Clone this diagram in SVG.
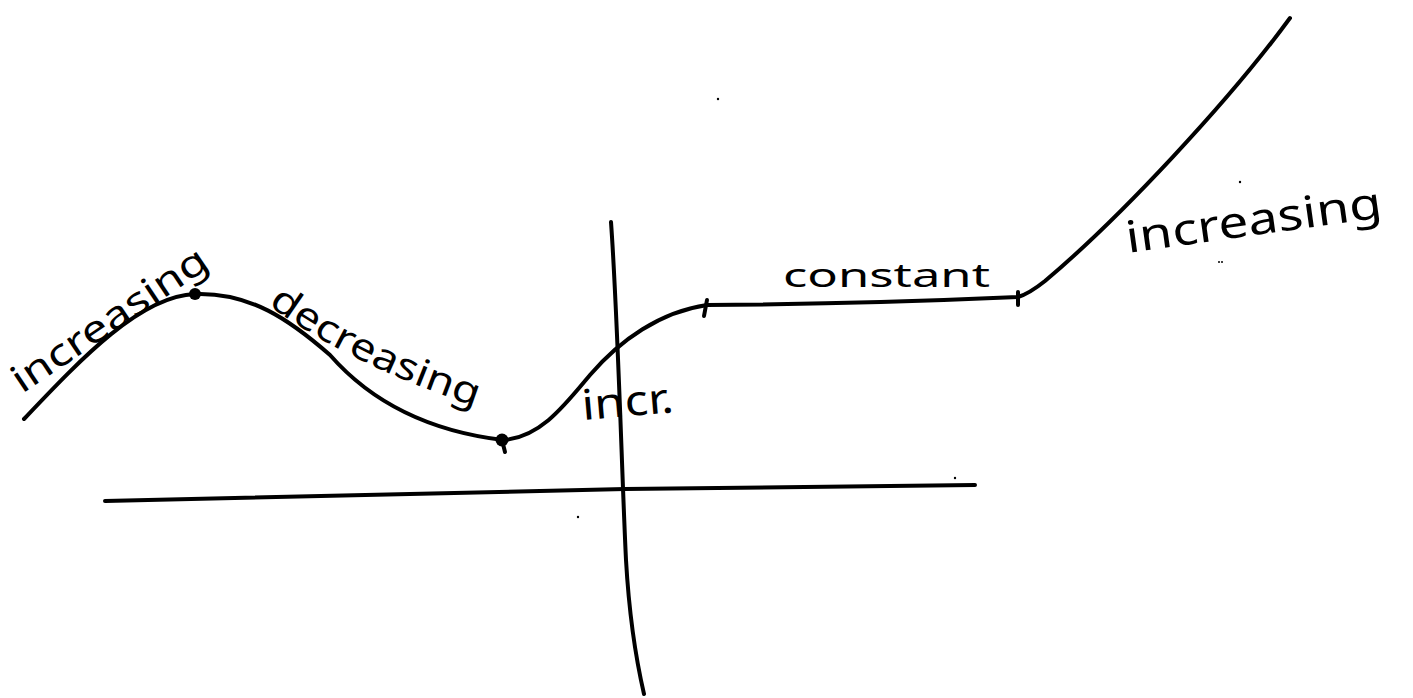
<svg xmlns="http://www.w3.org/2000/svg" width="1413" height="698" viewBox="0 0 1413 698">
<style>
.ln{fill:none;stroke:#000;stroke-width:4;stroke-linecap:round;stroke-linejoin:round}
.ax{fill:none;stroke:#000;stroke-width:4;stroke-linecap:round}
.lbl{font-family:"Noto Sans","DejaVu Sans",sans-serif;fill:#000}
.dot{fill:#000}
</style>
<defs>
<path id="p2" d="M 268 305 Q 350 365 480 408"/>
</defs>
<rect width="1413" height="698" fill="#fff"/>
<g id="axes">
<path class="ax" d="M 105 501 L 625 489 L 975 485"/>
<path class="ax" d="M 611 222 C 618 320, 622 480, 626 560 C 630 630, 638 668, 644 694"/>
</g>
<g id="connectors">
<path class="ln" d="M 24 419 C 80 360, 140 296, 195 294 C 250 292, 290 320, 330 355 C 365 395, 420 430, 503 440 C 540 438, 565 405, 590 375 C 620 340, 660 312, 707 305 Q 860 304 1018 297 C 1028 294, 1035 289, 1045 281 C 1120 218, 1230 100, 1290 18"/>
<path class="ln" d="M 707 300 L 704 316"/>
<path class="ln" d="M 1018 292 L 1018 305"/>
</g>
<g id="max-point">
<circle class="dot" cx="195" cy="294" r="6"/>
</g>
<g id="min-point">
<circle class="dot" cx="502" cy="440" r="6.5"/>
<path class="ln" d="M 503 444 L 505 452"/>
</g>
<g id="label-increasing-left">
<text class="lbl" font-size="38" transform="translate(22 394) rotate(-34)" textLength="228" lengthAdjust="spacingAndGlyphs">increasing</text>
</g>
<g id="label-decreasing">
<text class="lbl" font-size="38"><textPath href="#p2" textLength="232" lengthAdjust="spacingAndGlyphs">decreasing</textPath></text>
</g>
<g id="label-incr">
<text class="lbl" font-size="42" transform="translate(583 420) rotate(-5)" textLength="92" lengthAdjust="spacingAndGlyphs">incr.</text>
</g>
<g id="label-constant">
<text class="lbl" font-size="32" x="783" y="287" textLength="207" lengthAdjust="spacingAndGlyphs">constant</text>
</g>
<g id="label-increasing-right">
<text class="lbl" font-size="44" transform="translate(1128 253) rotate(-8)" textLength="258" lengthAdjust="spacingAndGlyphs">increasing</text>
</g>
<g id="specks">
<circle class="dot" cx="718" cy="99" r="1.2"/>
<circle class="dot" cx="1240" cy="182" r="1.2"/>
<circle class="dot" cx="1219" cy="262" r="1"/>
<circle class="dot" cx="1222" cy="262" r="1"/>
<circle class="dot" cx="578" cy="517" r="1.2"/>
<circle class="dot" cx="955" cy="478" r="1.2"/>
</g>
</svg>
